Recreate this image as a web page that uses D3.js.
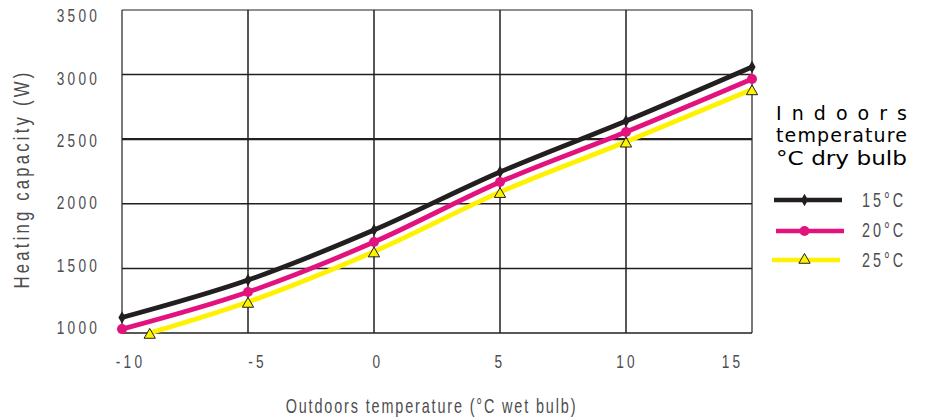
<!DOCTYPE html>
<html><head><meta charset="utf-8">
<script src="https://cdn.jsdelivr.net/npm/d3@7"></script>
<style>body{margin:0;background:#fff}</style>
</head><body>
<script>
const xTicks = [-10, -5, 0, 5, 10, 15];
const yTicks = [1000, 1500, 2000, 2500, 3000, 3500];
const xs15 = [-10, -5, 0, 5, 10, 15];
const v15 = [1120, 1410, 1797, 2246, 2641, 3059];
const xs20 = [-10, -5, 0, 5, 10, 15];
const v20 = [1030, 1317, 1704, 2169, 2556, 2966];
const xs25 = [-8.9, -5, 0, 5, 10, 15];
const v25 = [1000, 1240, 1630, 2090, 2480, 2885];
const seriesNames = ["15°C", "20°C", "25°C"];
const legendTitle = ["Indoors", "temperature", "°C dry bulb"];
const xLabelShift = [8, 9, 3.5, -0.5, 0.5, -20];

const W = 926, H = 418;
const svg = d3.select("body").append("svg").attr("width", W).attr("height", H);
const x = d3.scaleLinear().domain([-10, 15]).range([122, 752]);
const y = d3.scaleLinear().domain([1000, 3500]).range([333, 10]);
const yLab = d3.scaleLinear().domain([1000, 3500]).range([327, 14.7]);
const font = "'Liberation Sans',Arial,sans-serif";
const grey = "#4d4d4f";
const SX = 0.72;

function condense(sel, sx, ls) {
  sel.each(function() {
    const t = d3.select(this);
    const tx = +t.attr("x") || 0;
    t.attr("x", tx / sx).attr("transform", `scale(${sx},1)`).attr("letter-spacing", ls / sx);
  });
}

// grid
const g = svg.append("g");
g.selectAll(".hg").data(yTicks).enter().append("line")
  .attr("x1", x(-10)).attr("x2", x(15)).attr("y1", d => y(d)).attr("y2", d => y(d))
  .attr("stroke", "#231f20").attr("stroke-width", d => d === 2500 ? 2.2 : (d === 3500 ? 1 : 1.5));
g.selectAll(".vg").data(xTicks).enter().append("line")
  .attr("x1", d => x(d)).attr("x2", d => x(d)).attr("y1", y(3500)).attr("y2", y(1000))
  .attr("stroke", "#231f20").attr("stroke-width", d => (d === -10 || d === 15) ? 1.2 : 1.5);

// axes via d3
const yAxis = svg.append("g").attr("transform", `translate(${x(-10)},0)`)
  .call(d3.axisLeft(yLab).tickValues(yTicks).tickSize(0).tickPadding(22).tickFormat(d3.format("d")));
yAxis.select(".domain").remove();
yAxis.selectAll("text").attr("font-family", font).attr("font-size", 19).attr("fill", grey)
  .attr("dy", "0.36em").call(condense, SX, 3.2);

const xAxis = svg.append("g").attr("transform", `translate(0,${y(1000)})`)
  .call(d3.axisBottom(x).tickValues(xTicks).tickSize(0).tickPadding(22).tickFormat(d => d));
xAxis.select(".domain").remove();
xAxis.selectAll(".tick text").each(function(d, i) {
  d3.select(this).attr("x", xLabelShift[i]);
});
xAxis.selectAll("text").attr("font-family", font).attr("font-size", 19).attr("fill", grey)
  .attr("dy", "0.68em").call(condense, SX, 3.2);

// axis titles
svg.append("text").attr("transform", `translate(28.5,179) rotate(-90) scale(0.76,1)`)
  .attr("text-anchor", "middle").attr("font-family", font).attr("font-size", 22)
  .attr("fill", grey).attr("letter-spacing", 4.2).text("Heating capacity (W)");
svg.append("text").attr("transform", `translate(431.5,413) scale(${SX},1)`).attr("text-anchor", "middle")
  .attr("font-family", font).attr("font-size", 20).attr("fill", grey)
  .attr("letter-spacing", 2.6).text("Outdoors temperature (°C wet bulb)");

// lines
const series = [
  {xs: xs15, vs: v15, color: "#231f20", sym: "diamond"},
  {xs: xs20, vs: v20, color: "#e2137f", sym: "circle"},
  {xs: xs25, vs: v25, color: "#fff200", sym: "triangle"}
];
const line = d3.line().x(d => x(d[0])).y(d => y(d[1])).curve(d3.curveMonotoneX);
function marker(sel, s, cx, cy) {
  if (s.sym === "diamond") {
    sel.append("path").attr("d", d3.symbol(d3.symbolDiamond, 45)())
      .attr("transform", `translate(${cx},${cy})`).attr("fill", s.color);
  } else if (s.sym === "circle") {
    sel.append("circle").attr("cx", cx).attr("cy", cy).attr("r", 5).attr("fill", s.color);
  } else {
    sel.append("path").attr("d", d3.symbol(d3.symbolTriangle, 55)())
      .attr("transform", `translate(${cx},${cy + 2})`).attr("fill", s.color)
      .attr("stroke", "#231f20").attr("stroke-width", 1);
  }
}
series.slice().reverse().forEach(s => {
  const pts = s.xs.map((v, i) => [v, s.vs[i]]);
  svg.append("path").datum(pts).attr("d", line).attr("fill", "none")
    .attr("stroke", s.color).attr("stroke-width", 4.8).attr("stroke-linejoin", "round");
});
series.forEach(s => {
  const gm = svg.append("g");
  s.xs.forEach((v, i) => marker(gm, s, x(v), y(s.vs[i])));
});

// legend
const lg = svg.append("g");
const titleBase = [120, 142, 165];
legendTitle.forEach((t, i) => {
  lg.append("text").attr("x", 776).attr("y", titleBase[i])
    .attr("font-family", "'DejaVu Sans',sans-serif").attr("font-size", 19)
    .attr("fill", "#000").attr("textLength", 131)
    .attr("lengthAdjust", i === 2 ? "spacingAndGlyphs" : "spacing").text(t);
});
const lx = [[774, 842], [776, 844], [772, 840]];
const ly = [200, 231, 260];
const lb = [206.7, 236.7, 266.7];
series.forEach((s, i) => {
  lg.append("line").attr("x1", lx[i][0]).attr("x2", lx[i][1]).attr("y1", ly[i]).attr("y2", ly[i])
    .attr("stroke", s.color).attr("stroke-width", 4.5);
  marker(lg, s, 804.5, ly[i] - (s.sym === "triangle" ? 2 : 0));
  lg.append("text").attr("x", 862).attr("y", lb[i]).attr("font-family", font)
    .attr("font-size", 20).attr("fill", grey).call(condense, SX, 3).text(seriesNames[i]);
});
</script>
</body></html>
